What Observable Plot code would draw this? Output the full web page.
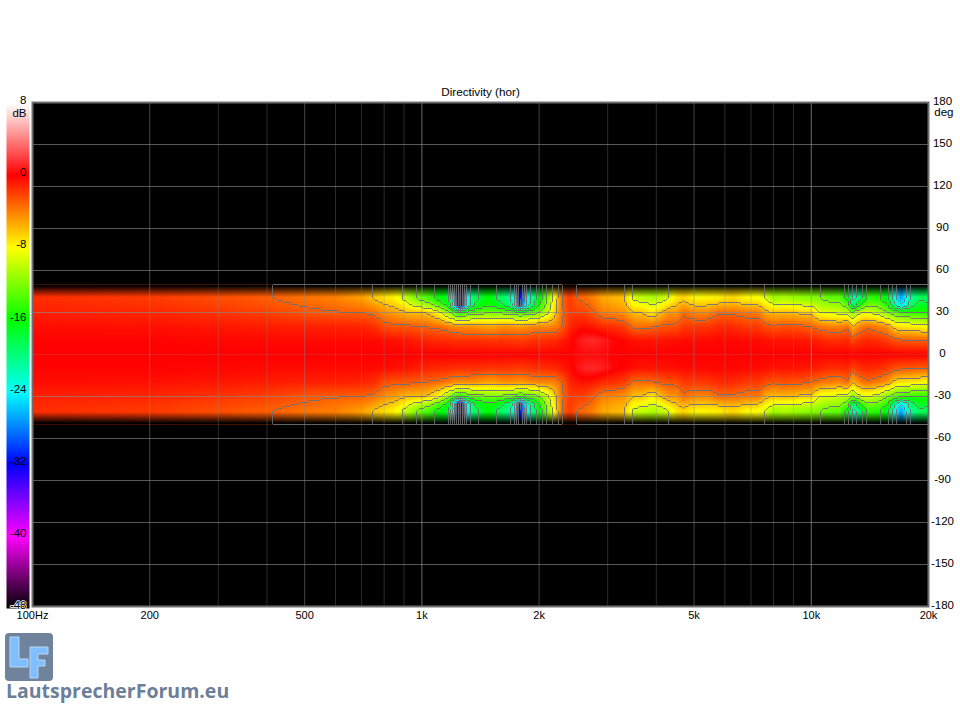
<!DOCTYPE html>
<html><head><meta charset="utf-8">
<script src="https://cdn.jsdelivr.net/npm/d3@7"></script>
<script src="https://cdn.jsdelivr.net/npm/@observablehq/plot@0.6"></script>
<style>
html,body{margin:0;padding:0;background:#fff}
#wrap{position:relative;width:960px;height:708px;overflow:hidden;font-family:"Liberation Sans",Arial,sans-serif}
#wrap>svg{position:absolute;left:0;top:0;background:transparent}
#logo{position:absolute;left:5px;top:633px;width:48px;height:48px;border-radius:4px;background:#6f839c;overflow:hidden}
#logo svg{display:block}
#brand{position:absolute;left:6px;top:677px;font:700 19.5px "Open Sans",sans-serif;color:#6d7f98;white-space:nowrap}
</style></head><body>
<div id="wrap">
<div id="logo"><svg width="48" height="48" viewBox="0 0 48 48"><path d="M5 4H14V26H23V34H5Z" fill="#80bfff" stroke="#bcd6f0"/><path d="M25 14H43V21H33V27H40V33H33V45H25Z" fill="#80bfff" stroke="#bcd6f0"/></svg></div>
<div id="brand">LautsprecherForum.eu</div>
</div>
<script>
const title = "Directivity (hor)";
const freqs = [100,200,300,400,500,600,700,750,800,850,900,950,1000,1050,1100,1130,1160,1180,1200,1225,1250,1275,1300,1330,1360,1400,1450,1500,1550,1600,1650,1700,1730,1760,1780,1810,1840,1870,1900,1950,2000,2100,2150,2200,2250,2300,2400,2500,2600,2750,2900,3100,3300,3500,3700,3900,4100,4300,4500,4700,5000,5400,5800,6300,6800,7300,7700,8000,8500,9000,9500,10000,10500,11000,11800,12400,12800,13000,13500,14000,15000,15700,16500,17000,17500,18000,19000,20000];
const angles = [0,10,20,30,35,40];
const dbAt0 = [0,0,0,0,0,0,0,0,0,0,0,0,0,0,0,0,0,0,0,0,0,0,0,0,0,0,0,0,0,0,0,0,0,0,0,0,0,0,0,0,0,0,0,0,0,0,0,0.2,0.3,0.3,0.3,0,0,0,0,0,0,0,0,0,0,0,0,0,0,0,0,0,0,0,0,0,0,0,0,0,0,0,0,0,0,0,0,0,0,0,0,0];
const dbAt10 = [-0.1,-0.1,-0.2,-0.3,-0.3,-0.3,-0.3,-0.3,-0.4,-0.5,-0.6,-0.8,-1,-1.2,-1.3,-1.3,-1.3,-1.4,-1.4,-1.5,-1.5,-1.5,-1.5,-1.5,-1.5,-1.5,-1.6,-1.7,-1.7,-1.6,-1.7,-1.8,-1.8,-1.8,-1.9,-1.8,-1.8,-1.7,-1.6,-1.5,-1.5,-1.4,-1.3,-1.3,-1,-0.8,-0.3,0.5,1.1,1.3,1,0.2,-0.1,-0.5,-0.6,-0.6,-0.6,-0.5,-0.4,-0.3,-0.3,-0.3,-0.2,-0.2,-0.3,-0.3,-0.5,-0.6,-0.6,-0.6,-0.7,-0.8,-1,-1.4,-1.4,-1.2,-2.3,-1.8,-1.4,-1.2,-1.5,-1.9,-2.6,-2.7,-2.8,-2.8,-2.9,-3];
const dbAt20 = [-0.4,-0.5,-0.7,-0.9,-1,-1,-1.1,-1.4,-2.3,-2.7,-2.7,-2.8,-3,-3.2,-3.4,-3.5,-3.8,-4,-4.2,-4.4,-4.5,-4.5,-4.5,-4.5,-4.6,-4.8,-5,-5.2,-5,-4.6,-4.6,-4.6,-4.7,-4.8,-4.8,-4.8,-4.6,-4.5,-4.4,-4.3,-4.2,-4.2,-4.1,-4,-3.5,-2.9,-1.2,-0.7,-0.5,-0.8,-1.3,-1.5,-1.9,-3.4,-3.4,-3.2,-2.8,-2.6,-2.5,-1.8,-1.8,-1.7,-1.3,-1.3,-1.8,-1.8,-2.4,-2.8,-2.5,-2.6,-2.7,-3.1,-3.6,-3.9,-4.2,-3.4,-5.8,-5,-3.8,-3.4,-4.1,-4.8,-7,-7.2,-7.4,-7.5,-7.7,-8.3];
const dbAt30 = [-1,-1.2,-1.6,-2,-2.6,-2.9,-3,-3.4,-4.5,-5,-5.7,-6,-6,-6.5,-8,-9.5,-11,-12,-13,-14.5,-15.5,-14.5,-14,-13.5,-13,-12.8,-12.5,-12.5,-12.5,-12.5,-12.7,-13,-13.3,-13.8,-14,-14,-13.8,-13.6,-13.2,-12.8,-12,-9.5,-8,-6.5,-4.5,-3.2,-1.8,-1.9,-2,-2.8,-3.9,-4.2,-4.6,-6,-6.2,-7.5,-6,-4.6,-4.8,-3.4,-4.2,-4.3,-3.2,-3.3,-3.8,-3.8,-5.7,-6,-5.8,-6,-6.5,-6.3,-8.8,-9,-9.5,-10,-12,-10.5,-9,-9,-10.3,-12,-13.5,-14,-14.3,-14.5,-14.7,-15];
const dbAt35 = [-1.2,-1.5,-2,-2.5,-3.1,-3.5,-4,-4.7,-5.7,-6.3,-7.5,-9,-10,-11,-13,-14,-15.5,-18,-22,-28,-37,-30,-24,-20.5,-18,-16.5,-15.5,-15.5,-16,-17.5,-18.5,-20.5,-23,-27,-32,-28,-25,-22,-20,-17.5,-15,-11,-8.8,-7,-4.8,-3,-1.8,-2.4,-2.7,-3.4,-4.6,-5,-5.3,-7.8,-8.1,-8.9,-8.3,-6.8,-6,-5.1,-6,-6,-5.4,-5.2,-5.8,-6,-7.5,-8.7,-8.4,-8.7,-9,-9.5,-10.4,-10.9,-11.2,-13,-19,-18,-14,-12,-12.8,-15,-21,-24,-22,-19,-17,-17];
const dbAt40 = [-1.4,-1.8,-2.4,-2.9,-3.6,-4,-5,-6,-7,-7.6,-9.5,-11.5,-13,-14,-16,-16.5,-17.5,-19,-23,-29,-38,-30,-25,-21.5,-19,-18,-16.5,-16,-18,-19,-20,-21.5,-24,-28,-33,-29,-26,-23.5,-21,-19,-16.5,-12,-9.5,-7.5,-5,-3,-1.8,-3,-3.3,-4,-5.2,-5.6,-6,-9.5,-10,-10.5,-10,-9.2,-7.2,-6.6,-7.8,-7.7,-7.5,-6.7,-7.8,-8,-9.5,-11,-10.6,-11,-11.5,-11.8,-12,-12.8,-13,-16,-22,-21,-18,-14.5,-15,-17,-24,-27,-24,-21,-18.5,-19];
const colorDomain = [-48,-40,-32,-24,-16,-8,0,8];
const colorRange = ["#000000","#ff00ff","#0000ff","#00ffff","#00ff00","#ffff00","#ff0000","#ffffff"];
const dbTicks = [8,0,-8,-16,-24,-32,-40,-48];
const angleTicks = [180,150,120,90,60,30,0,-30,-60,-90,-120,-150,-180];
const freqTicks = [100,200,500,1000,2000,5000,10000,20000];
const freqTickLabels = ["100Hz","200","500","1k","2k","5k","10k","20k"];
const gridMinor = [300,400,600,700,800,900,3000,4000,6000,7000,8000,9000];
const gridMid = [200,500,2000,5000];
const gridMajor = [1000,10000];
const contourDb = [3,6,9,12,15,18,21,24,27,30,33,36];

const rows = [dbAt0,dbAt10,dbAt20,dbAt30,dbAt35,dbAt40];
const logFreqs = freqs.map(Math.log);
function dbAt(f,a){
  const lf = Math.log(f);
  let i = d3.bisectRight(logFreqs,lf)-1;
  i = Math.max(0,Math.min(freqs.length-2,i));
  const t = Math.max(0,Math.min(1,(lf-logFreqs[i])/(logFreqs[i+1]-logFreqs[i])));
  const p = Math.min(40,Math.abs(a));
  const j = Math.max(0,Math.min(angles.length-2,d3.bisectRight(angles,p)-1));
  const u = (p-angles[j])/(angles[j+1]-angles[j]);
  const v0 = rows[j][i]*(1-t)+rows[j][i+1]*t;
  const v1 = rows[j+1][i]*(1-t)+rows[j+1][i+1]*t;
  return v0*(1-u)+v1*u;
}
const colorOpts = {type:"linear",domain:colorDomain,range:colorRange,interpolate:"rgb",clamp:true};
const gridLines = angleTicks.filter(d=>d!==0&&Math.abs(d)!==180);
const band = {x1:100,x2:20000,y1:-50,y2:50};

const main = Plot.plot({
  width:960,height:708,marginLeft:32,marginRight:32,marginTop:102,marginBottom:102,
  style:{background:"transparent",fontFamily:"'Liberation Sans',Arial,sans-serif",fontSize:"11px",color:"#000"},
  x:{type:"log",domain:[100,20000],axis:null},
  y:{domain:[-180,180],axis:null},
  color:colorOpts,
  opacity:{domain:[0,1],range:[0,1]},
  marks:[
    Plot.frame({fill:"black",stroke:"none"}),
    Plot.raster({...band,fill:(f,a)=>dbAt(f,a),pixelSize:1}),
    Plot.raster({...band,fill:"black",fillOpacity:(f,a)=>Math.max(0,Math.min(1,(Math.abs(a)-41)/8)),pixelSize:1}),
    Plot.ruleX(gridMinor,{stroke:"#888",strokeOpacity:0.32}),
    Plot.ruleX(gridMid,{stroke:"#888",strokeOpacity:0.5}),
    Plot.ruleX(gridMajor,{stroke:"#999",strokeOpacity:0.7}),
    Plot.ruleY(gridLines,{stroke:"#888",strokeOpacity:0.65}),
    Plot.ruleY([0],{stroke:"#888",strokeOpacity:0.25}),
    Plot.contour({...band,value:(f,a)=>-dbAt(f,a),thresholds:contourDb,stroke:"#6e6e6e",fill:"none",strokeWidth:1,pixelSize:2,smooth:false}),
    Plot.frame({stroke:"#6e6e6e",strokeWidth:2}),
    Plot.axisX(freqTicks,{anchor:"bottom",tickSize:0,tickPadding:5,fontSize:11,tickFormat:(d)=>freqTickLabels[freqTicks.indexOf(d)],label:null}),
    Plot.axisY(angleTicks,{anchor:"right",tickSize:0,tickPadding:14,dy:-1,textAnchor:"middle",fontSize:11.5,tickFormat:(d)=>String(d),label:null}),
    Plot.text([title],{frameAnchor:"top",dy:-15,fontSize:11.7}),
    Plot.text(["deg"],{frameAnchor:"top-right",dx:25,dy:5,textAnchor:"end",fontSize:11.5})
  ]
});

const legend = Plot.plot({
  width:34,height:708,marginLeft:6,marginRight:5,marginTop:103,marginBottom:100,
  style:{background:"transparent",fontFamily:"'Liberation Sans',Arial,sans-serif",fontSize:"11.5px",color:"#000"},
  x:{domain:[0,1],axis:null},
  y:{domain:[-48,8],axis:null},
  color:colorOpts,
  marks:[
    Plot.raster({fill:(x,y)=>y,x1:0,x2:1,y1:-48,y2:8,pixelSize:1}),
    Plot.text(dbTicks.filter(d=>d!==-48),{x:1,y:d=>d,dx:-3,dy:-3,textAnchor:"end",text:d=>String(d),fontSize:11.5,fill:"#000"}),
    Plot.text([-48],{x:1,y:d=>d,dx:-3,dy:-3,textAnchor:"end",text:d=>String(d),fontSize:11.5,fill:"#000",stroke:"#fff",strokeWidth:1.5}),
    Plot.text(["dB"],{frameAnchor:"top-right",dx:-3,dy:5,textAnchor:"end",fontSize:11.5,fill:"#000"})
  ]
});
const wrap = document.getElementById("wrap");
wrap.prepend(legend);
wrap.prepend(main);
</script>
</body></html>
